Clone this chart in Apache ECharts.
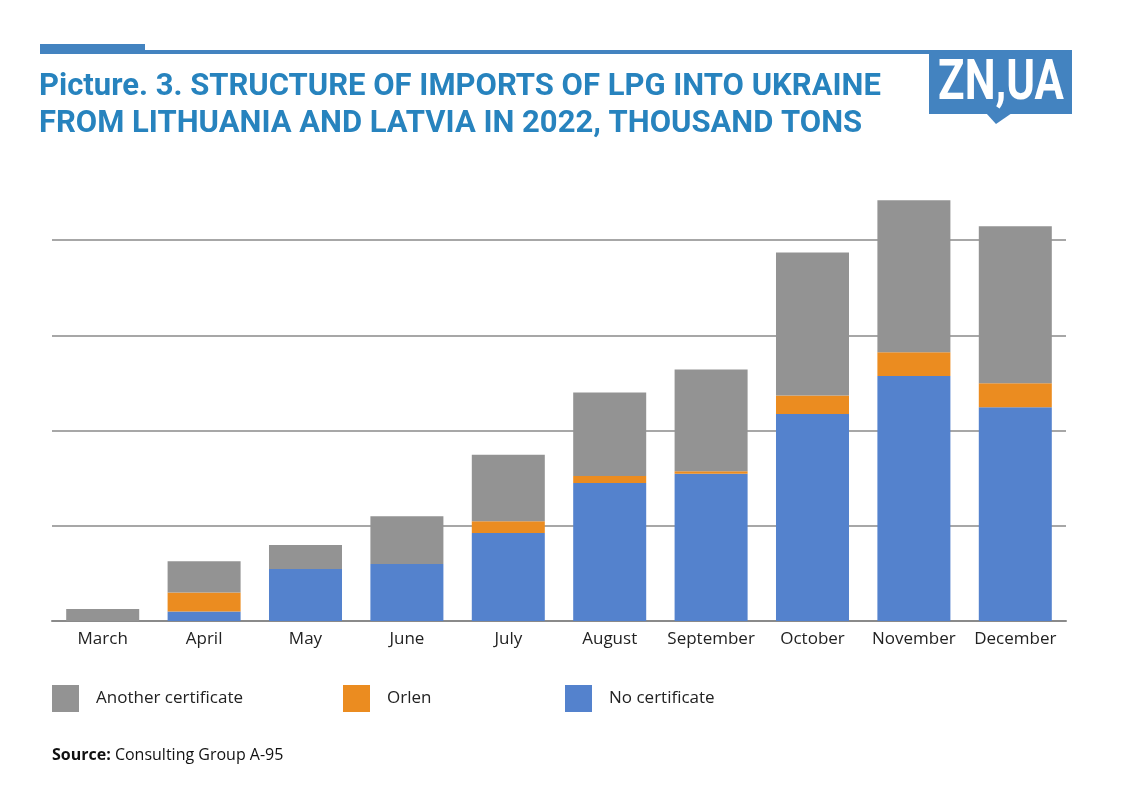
<!DOCTYPE html>
<html>
<head>
<meta charset="utf-8">
<script src="https://cdn.jsdelivr.net/npm/echarts@6/dist/echarts.min.js"></script>
<style>
html,body{margin:0;padding:0;background:#fff;}
#chart{width:1123px;height:795px;}
</style>
</head>
<body>
<div id="chart"></div>
<script>
var categories = ['March', 'April', 'May', 'June', 'July', 'August', 'September', 'October', 'November', 'December'];
var noCertificate = [0, 0.99, 5.46, 5.99, 9.24, 14.5, 15.48, 21.74, 25.74, 22.45];
var orlen = [0, 2.0, 0, 0, 1.23, 0.74, 0.25, 1.96, 2.49, 2.52];
var anotherCertificate = [1.26, 3.29, 2.52, 5.01, 7.0, 8.75, 10.7, 15.02, 15.97, 16.49];
var seriesNames = ['Another certificate', 'Orlen', 'No certificate'];

var chart = echarts.init(document.getElementById('chart'), null, {renderer: 'canvas'});
var blue = '#4383C0';
var legendBase = {
  top: 685, itemWidth: 27, itemHeight: 27, padding: 0, icon: 'rect',
  selectedMode: false,
  textStyle: {fontFamily: 'Open Sans', fontSize: 17, color: '#222', padding: [0, 0, 0, 12]}
};
var option = {
  backgroundColor: '#fff',
  animation: false,
  title: {
    text: 'Picture. 3. STRUCTURE OF IMPORTS OF LPG INTO UKRAINE\nFROM LITHUANIA AND LATVIA IN 2022, THOUSAND TONS',
    left: 39, top: 69, padding: 0,
    textStyle: {fontFamily: 'Roboto', fontWeight: 'bold', fontSize: 31, lineHeight: 37, color: '#2783BE'}
  },
  legend: [
    Object.assign({}, legendBase, {left: 52, data: [seriesNames[0]]}),
    Object.assign({}, legendBase, {left: 343, data: [seriesNames[1]]}),
    Object.assign({}, legendBase, {left: 565, data: [seriesNames[2]]})
  ],
  grid: {left: 52, right: 57, top: 145, bottom: 174},
  xAxis: {
    type: 'category', data: categories,
    axisLine: {show: true, lineStyle: {color: '#8a8a8a', width: 2}},
    axisTick: {show: false},
    axisLabel: {fontFamily: 'Open Sans', fontSize: 17, color: '#222', margin: 10, interval: 0}
  },
  yAxis: {
    type: 'value', min: 0, max: 50, interval: 10,
    axisLabel: {show: false}, axisLine: {show: false}, axisTick: {show: false},
    splitLine: {show: true, showMaxLine: false, showMinLine: false, lineStyle: {color: '#8a8a8a', width: 1.5}}
  },
  series: [
    {name: seriesNames[2], type: 'bar', stack: 'total', data: noCertificate, barCategoryGap: '28%',
     itemStyle: {color: '#5482CD'}},
    {name: seriesNames[1], type: 'bar', stack: 'total', data: orlen,
     itemStyle: {color: '#EB8C20'}},
    {name: seriesNames[0], type: 'bar', stack: 'total', data: anotherCertificate,
     itemStyle: {color: '#939393'}}
  ],
  graphic: [
    {type: 'rect', shape: {x: 40, y: 44, width: 105, height: 10}, style: {fill: blue}},
    {type: 'rect', shape: {x: 40, y: 50, width: 1032, height: 4}, style: {fill: blue}},
    {type: 'rect', shape: {x: 929, y: 52, width: 143, height: 62}, style: {fill: blue}},
    {type: 'polygon', shape: {points: [[986, 113], [1012, 113], [996, 124]]}, style: {fill: blue}},
    {type: 'text', x: 1001, y: 85, scaleX: 0.78,
     style: {text: 'ZN,UA', fill: '#fff', font: 'bold 56px Roboto', textAlign: 'center', textVerticalAlign: 'middle'}},
    {type: 'text', left: 52, top: 747,
     style: {text: '{b|Source:} Consulting Group A-95',
       rich: {b: {fontWeight: 'bold', fontFamily: 'Open Sans', fontSize: 16, fill: '#111'}},
       font: '16px "Open Sans"', fill: '#111'}}
  ]
};
chart.setOption(option);
</script>
</body>
</html>
